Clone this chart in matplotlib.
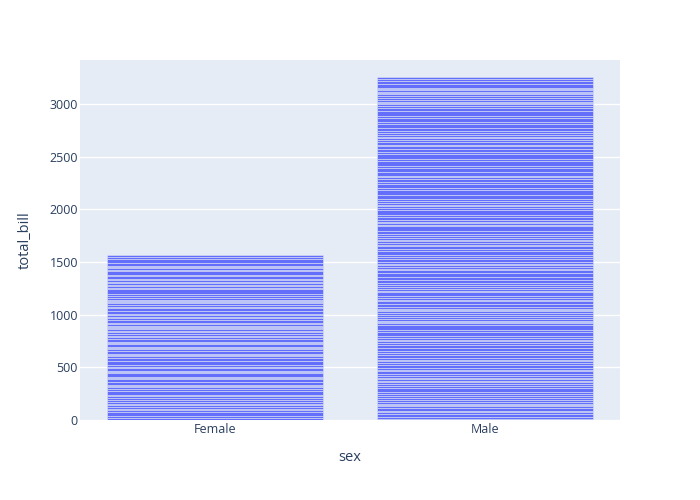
import matplotlib
matplotlib.use("Agg")
import matplotlib.pyplot as plt
import numpy as np

# total_bill per row of the tips data, split by sex, in row order
female_bills = [
    16.99, 24.59, 35.26, 14.83, 10.33, 16.97, 20.29, 15.77, 19.65, 15.06,
    20.69, 16.93, 10.29, 34.81, 26.41, 16.45, 3.07, 17.07, 26.86, 25.28,
    14.73, 10.07, 34.83, 5.75, 16.32, 22.75, 11.35, 15.38, 44.30, 22.42,
    20.92, 14.31, 7.25, 25.71, 17.31, 10.65, 12.43, 24.08, 13.42, 12.48,
    29.80, 14.52, 11.38, 20.27, 11.17, 12.26, 18.26, 8.51, 10.33, 14.15,
    13.16, 17.47, 27.05, 16.43, 8.35, 18.64, 11.87, 29.85, 25.00, 13.39,
    16.21, 17.51, 10.59, 10.63, 9.60, 20.90, 18.15, 19.81, 43.11, 13.00,
    12.74, 13.00, 16.40, 16.47, 12.76, 13.27, 28.17, 12.90, 30.14, 13.42,
    15.98, 16.27, 10.09, 22.12, 35.83, 27.18, 18.78,
]
male_bills = [
    10.34, 21.01, 23.68, 25.29, 8.77, 26.88, 15.04, 14.78, 10.27, 15.42,
    18.43, 21.58, 16.29, 20.65, 17.92, 39.42, 19.82, 17.81, 13.37, 12.69,
    21.70, 9.55, 18.35, 17.78, 24.06, 16.31, 18.69, 31.27, 16.04, 17.46,
    13.94, 9.68, 30.40, 18.29, 22.23, 32.40, 28.55, 18.04, 12.54, 9.94,
    25.56, 19.49, 38.01, 11.24, 48.27, 20.29, 13.81, 11.02, 18.29, 17.59,
    20.08, 20.23, 15.01, 12.02, 10.51, 17.92, 27.20, 22.76, 17.29, 19.44,
    16.66, 32.68, 15.98, 13.03, 18.28, 24.71, 21.16, 28.97, 22.49, 40.17,
    27.28, 12.03, 21.01, 12.46, 15.36, 20.49, 25.21, 18.24, 14.00, 38.07,
    23.95, 29.93, 11.69, 14.26, 15.95, 8.52, 22.82, 19.08, 16.00, 34.30,
    41.19, 9.78, 7.51, 14.07, 13.13, 17.26, 24.55, 19.77, 48.17, 16.49,
    21.50, 12.66, 13.81, 24.52, 20.76, 31.71, 50.81, 15.81, 7.25, 31.85,
    16.82, 32.90, 17.89, 14.48, 34.63, 34.65, 23.33, 45.35, 23.17, 40.55,
    20.69, 30.46, 23.10, 15.69, 28.44, 15.48, 16.58, 7.56, 10.34, 13.51,
    18.71, 20.53, 26.59, 38.73, 24.27, 30.06, 25.89, 48.33, 28.15, 11.59,
    7.74, 12.16, 8.58, 13.42, 20.45, 13.28, 24.01, 15.69, 11.61, 10.77,
    15.53, 10.07, 12.60, 32.83, 29.03, 22.67, 17.82,
]
categories = ["Female", "Male"]
y_ticks = [0, 500, 1000, 1500, 2000, 2500, 3000]

BG = "#E5ECF6"
BAR = "#636EFA"
TEXT = "#2a3f5f"

plt.rcParams["font.family"] = ["Open Sans", "DejaVu Sans"]

fig = plt.figure(figsize=(7, 5), dpi=100)
ax = fig.add_axes([80 / 700, 80 / 500, 540 / 700, 360 / 500])
ax.set_facecolor(BG)

# stacked segments, one per row
for i, bills in enumerate([female_bills, male_bills]):
    bills = np.array(bills)
    bottoms = np.concatenate([[0], np.cumsum(bills)[:-1]])
    ax.bar(
        np.full(len(bills), i), bills, bottom=bottoms, width=0.8,
        color=BAR, edgecolor=BG, linewidth=0.36, zorder=3,
    )

top = max(sum(female_bills), sum(male_bills))
ax.set_ylim(0, top * 1.05)
ax.set_xlim(-0.5, 1.5)

ax.set_xticks(range(len(categories)))
ax.set_xticklabels(categories)
ax.set_yticks(y_ticks)
ax.yaxis.grid(True, color="white", linewidth=1, zorder=0)
ax.set_axisbelow(True)
ax.tick_params(length=0, labelsize=9, colors=TEXT)
ax.tick_params(axis="y", pad=1.5)
ax.tick_params(axis="x", pad=2)
for s in ax.spines.values():
    s.set_visible(False)

ax.set_xlabel("sex", fontsize=10.5, color=TEXT, labelpad=10)
ax.set_ylabel("total_bill", fontsize=10.5, color=TEXT, labelpad=12)

fig.savefig("out.png", dpi=100, facecolor="white")
